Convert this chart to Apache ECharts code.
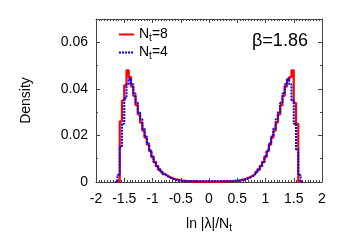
<!DOCTYPE html>
<html>
<head>
<meta charset="utf-8">
<script src="https://cdn.jsdelivr.net/npm/echarts@6/dist/echarts.min.js"></script>
<style>
html,body{margin:0;padding:0;background:#fff;}
#c{width:354px;height:248px;}
</style>
</head>
<body>
<div id="c"></div>
<script>
// Bin left edges (width 0.04) for ln|lambda|/N_t histograms
const binEdges = [-1.66,-1.62,-1.58,-1.54,-1.50,-1.46,-1.42,-1.38,-1.34,-1.30,-1.26,-1.22,-1.18,-1.14,-1.10,-1.06,-1.02,-0.98,-0.94,-0.90,-0.86,-0.82,-0.78,-0.74,-0.70,-0.66,-0.62,-0.58,-0.54,-0.50,-0.46,-0.42,-0.38,-0.34,-0.30,-0.26,-0.22,-0.18,-0.14,-0.10,-0.06,-0.02,
0.02,0.06,0.10,0.14,0.18,0.22,0.26,0.30,0.34,0.38,0.42,0.46,0.50,0.54,0.58,0.62,0.66,0.70,0.74,0.78,0.82,0.86,0.90,0.94,0.98,1.02,1.06,1.10,1.14,1.18,1.22,1.26,1.30,1.34,1.38,1.42,1.46,1.50,1.54,1.58,1.62,1.66];

// Density, N_t = 8 (red)
const densityNt8 = [0,0,0.026,0.035,0.0415,0.048,0.045,0.041,0.037,0.033,0.029,0.0255,0.022,0.019,0.016,0.0132,0.0107,0.0086,0.0069,0.0055,0.0044,0.0035,0.0028,0.0022,0.0018,0.0014,0.0011,0.0009,0.0007,0.0006,0.0005,0.0004,0.0004,0.0003,0.0003,0.0003,0.0002,0.0002,0.0002,0.0002,0.0002,0.0002,
0.0002,0.0002,0.0002,0.0002,0.0002,0.0003,0.0003,0.0003,0.0004,0.0004,0.0005,0.0006,0.0007,0.0009,0.0011,0.0014,0.0018,0.0022,0.0028,0.0035,0.0044,0.0055,0.0069,0.0086,0.0107,0.0132,0.016,0.019,0.022,0.0255,0.029,0.033,0.037,0.041,0.044,0.045,0.048,0.034,0.025,0,0];

// Density, N_t = 4 (blue)
const densityNt4 = [0,0.003,0.015,0.025,0.036,0.042,0.0445,0.042,0.038,0.034,0.030,0.027,0.023,0.0195,0.0165,0.0135,0.011,0.0085,0.0068,0.0053,0.0042,0.0033,0.0026,0.0020,0.0016,0.0012,0.0009,0.0007,0.0005,0.0004,0.0003,0.0003,0.0003,0.0003,0.0003,0.0003,0.0003,0.0003,0.0003,0.0003,0.0003,0.0003,
0.0003,0.0003,0.0003,0.0003,0.0003,0.0003,0.0003,0.0003,0.0003,0.0003,0.0003,0.0004,0.0005,0.0007,0.0009,0.0012,0.0016,0.0020,0.0026,0.0033,0.0042,0.0053,0.0068,0.0085,0.011,0.0135,0.0165,0.0195,0.023,0.027,0.030,0.034,0.038,0.042,0.0445,0.042,0.035,0.025,0.014,0.003,0];

const xTicks = [-2,-1.5,-1,-0.5,0,0.5,1,1.5,2];
const yTicks = [0,0.02,0.04,0.06];
const seriesNames = ['Nt8','Nt4'];
const betaLabel = 'β=1.86';

function toPoints(vals){
  return binEdges.map((e,i)=>[e, i < vals.length ? vals[i] : 0]);
}

const font = 'Liberation Sans, Arial, Helvetica, sans-serif';
const axisCol = '#444';
const chart = echarts.init(document.getElementById('c'), null, {renderer:'canvas'});

const commonX = {
  type:'value', min:-2, max:2, interval:0.5,
  axisLine:{show:true,onZero:false,lineStyle:{color:axisCol,width:1}},
  axisTick:{show:true,inside:true,length:4,lineStyle:{color:axisCol}},
  minorTick:{show:true,splitNumber:10,length:2,lineStyle:{color:axisCol}},
  splitLine:{show:false}
};
const commonY = {
  type:'value', min:0, max:0.07, interval:0.02,
  axisLine:{show:true,onZero:false,lineStyle:{color:axisCol,width:1}},
  axisTick:{show:true,inside:true,length:4,lineStyle:{color:axisCol}},
  minorTick:{show:true,splitNumber:2,length:2,lineStyle:{color:axisCol}},
  splitLine:{show:false}
};

chart.setOption({
  animation:false,
  backgroundColor:'#fff',
  grid:{left:96,right:32,top:19,bottom:66,containLabel:false},
  title:{text:betaLabel,left:247,top:27,textStyle:{fontFamily:font,fontSize:18,fontWeight:'normal',color:'#000'}},
  legend:{
    orient:'vertical', left:113, top:21, itemWidth:15, itemHeight:10, itemGap:1,
    data:seriesNames,
    itemStyle:{opacity:0},
    formatter:function(n){ return n==='Nt8' ? '{n|N}{s|t}{n|=8}' : '{n|N}{s|t}{n|=4}'; },
    textStyle:{fontFamily:font,color:'#000',
      rich:{n:{fontFamily:font,fontSize:14,color:'#000',lineHeight:14},
            s:{fontFamily:font,fontSize:10,color:'#000',padding:[7,0,0,0],lineHeight:14}}}
  },
  xAxis:[
    Object.assign({}, commonX, {position:'bottom',
      name:'{n|ln |λ|/N}{s|t}', nameLocation:'middle', nameGap:33,
      nameTextStyle:{rich:{n:{fontFamily:font,fontSize:14,color:'#000'},s:{fontFamily:font,fontSize:10,color:'#000',padding:[8,0,0,0]}}},
      axisLabel:{show:true,fontFamily:font,fontSize:14,color:'#000',margin:10,
        formatter:function(v){return String(v);}}
    }),
    Object.assign({}, commonX, {position:'top',axisLabel:{show:false}})
  ],
  yAxis:[
    Object.assign({}, commonY, {position:'left',
      name:'Density', nameLocation:'middle', nameGap:63,
      nameTextStyle:{fontFamily:font,fontSize:14,color:'#000'},
      axisLabel:{show:true,fontFamily:font,fontSize:14,color:'#000',margin:8,showMaxLabel:false,
        formatter:function(v){ return yTicks.indexOf(Math.round(v*100)/100)>=0 ? (v===0?'0':v.toFixed(2)) : ''; }}
    }),
    Object.assign({}, commonY, {position:'right',axisLabel:{show:false}})
  ],
  series:[
    {name:'Nt8',type:'line',step:'end',data:toPoints(densityNt8),symbol:'none',
     lineStyle:{color:'#ff0000',width:2.2},itemStyle:{color:'#ff0000'},z:2},
    {name:'Nt4',type:'line',step:'end',data:toPoints(densityNt4),symbol:'none',
     lineStyle:{color:'#0000ff',width:2,type:[2,1]},itemStyle:{color:'#0000ff'},z:3}
  ]
});
</script>
</body>
</html>
